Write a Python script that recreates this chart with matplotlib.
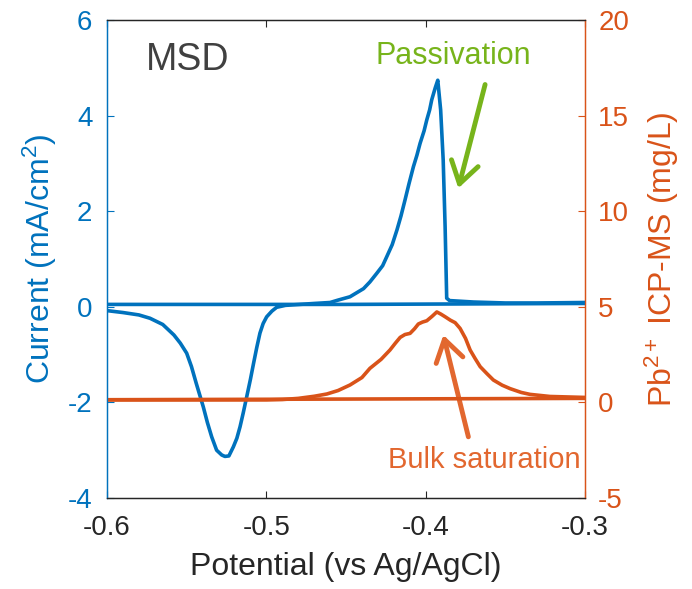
import matplotlib
matplotlib.use("Agg")
import matplotlib.pyplot as plt

plt.rcParams['font.family'] = ['Liberation Sans', 'DejaVu Sans']
plt.rcParams['mathtext.fontset'] = 'custom'
plt.rcParams['mathtext.rm'] = 'Liberation Sans'
plt.rcParams['mathtext.it'] = 'Liberation Sans:italic'
plt.rcParams['mathtext.bf'] = 'Liberation Sans:bold'

# Blue: current (left axis), CV loop
pot_cv_fwd = [-0.600, -0.590, -0.580, -0.573, -0.565, -0.558, -0.554, -0.550, -0.547, -0.544,
              -0.5396, -0.537, -0.5343, -0.5312, -0.528, -0.526, -0.5235, -0.5207, -0.5185, -0.5165,
              -0.5145, -0.5123, -0.510, -0.508, -0.506, -0.504, -0.502, -0.4998, -0.4965, -0.4935,
              -0.488, -0.479, -0.470, -0.460, -0.455, -0.4475, -0.439, -0.435, -0.4307, -0.427,
              -0.4244, -0.421, -0.418, -0.4155, -0.413, -0.4105, -0.4077, -0.4055, -0.4035, -0.401,
              -0.3993, -0.3975, -0.3962, -0.3940, -0.3924, -0.3906, -0.389, -0.3878, -0.3868,
              -0.3850, -0.370, -0.350, -0.330, -0.300]
cur_cv_fwd = [-0.08, -0.12, -0.17, -0.24, -0.37, -0.59, -0.76, -0.97, -1.25, -1.60,
              -2.09, -2.42, -2.72, -3.00, -3.10, -3.13, -3.12, -2.93, -2.75, -2.51,
              -2.22, -1.88, -1.52, -1.18, -0.85, -0.55, -0.35, -0.21, -0.09, -0.01,
              0.03, 0.05, 0.07, 0.09, 0.14, 0.21, 0.38, 0.52, 0.70, 0.86,
              1.05, 1.30, 1.61, 1.90, 2.23, 2.57, 2.93, 3.17, 3.42, 3.68,
              3.91, 4.12, 4.33, 4.58, 4.74, 4.12, 3.07, 1.68, 0.18,
              0.13, 0.10, 0.08, 0.08, 0.09]
pot_cv_rev = [-0.300, -0.450, -0.600]
cur_cv_rev = [0.07, 0.05, 0.05]

# Orange: Pb2+ ICP-MS (right axis)
pot_icp_fwd = [-0.600, -0.500, -0.490, -0.480, -0.470, -0.462, -0.455, -0.4475, -0.440, -0.435,
               -0.428, -0.4224, -0.419, -0.416, -0.413, -0.4098, -0.407, -0.4046, -0.402, -0.3993,
               -0.396, -0.393, -0.3905, -0.3878, -0.3845, -0.3815, -0.3784, -0.375, -0.3721, -0.369,
               -0.3658, -0.3615, -0.3575, -0.352, -0.347, -0.340, -0.3345, -0.322, -0.300]
icp_fwd = [0.13, 0.13, 0.15, 0.21, 0.32, 0.44, 0.62, 0.91, 1.30, 1.78,
           2.25, 2.74, 3.10, 3.40, 3.55, 3.61, 3.85, 4.10, 4.20, 4.27,
           4.50, 4.73, 4.62, 4.48, 4.30, 4.17, 3.87, 3.35, 2.74, 2.30,
           1.87, 1.50, 1.17, 0.90, 0.72, 0.52, 0.42, 0.31, 0.26]
pot_icp_rev = [-0.300, -0.600]
icp_rev = [0.21, 0.14]

x_ticks = [-0.6, -0.5, -0.4, -0.3]
x_ticklabels = ['-0.6', '-0.5', '-0.4', '-0.3']
yl_ticks = [-4, -2, 0, 2, 4, 6]
yr_ticks = [-5, 0, 5, 10, 15, 20]

BLUE = '#0072BD'
ORANGE = '#D95319'
GREEN = '#77B41B'
ORANGE_TXT = '#E2672F'
GRAY = '#262626'

W, H = 692, 589
fig = plt.figure(figsize=(W / 100, H / 100), dpi=100)
ax = fig.add_axes([107 / W, 1 - 498 / H, (585 - 107) / W, (498 - 20) / H])
ax2 = ax.twinx()

LW = 2.6
ax.plot(pot_cv_fwd, cur_cv_fwd, color=BLUE, lw=LW, solid_joinstyle='round', zorder=3)
ax.plot(pot_cv_rev, cur_cv_rev, color=BLUE, lw=LW, zorder=3)
ax2.plot(pot_icp_fwd, icp_fwd, color=ORANGE, lw=LW, solid_joinstyle='round')
ax2.plot(pot_icp_rev, icp_rev, color=ORANGE, lw=LW)

ax.set_xlim(-0.6, -0.3)
ax.set_ylim(-4, 6)
ax2.set_ylim(-5, 20)
ax.set_xticks(x_ticks)
ax.set_xticklabels(x_ticklabels)
ax.set_yticks(yl_ticks)
ax.set_yticklabels([str(v) for v in yl_ticks])
ax2.set_yticks(yr_ticks)
ax2.set_yticklabels([str(v) for v in yr_ticks])

fs_tick = 20
ax.tick_params(axis='x', direction='in', length=5, width=0.8, colors=GRAY,
               labelsize=fs_tick, pad=12, top=True)
ax.tick_params(axis='y', direction='in', length=5, width=0.8, colors=BLUE,
               labelsize=fs_tick, pad=10.5)
ax2.tick_params(axis='y', direction='in', length=5, width=0.8, colors=ORANGE,
                labelsize=fs_tick, pad=9.5)

for a in (ax, ax2):
    a.spines['top'].set_color(GRAY)
    a.spines['bottom'].set_color(GRAY)
    a.spines['left'].set_color(BLUE)
    a.spines['right'].set_color(ORANGE)
    for s in a.spines.values():
        s.set_linewidth(0.9)

ax.set_xlabel('Potential (vs Ag/AgCl)', fontsize=23, color=GRAY, labelpad=8)
ax.set_ylabel(r'Current (mA/cm$^{\mathrm{2}}$)', fontsize=23, color=BLUE, labelpad=6)
ax2.set_ylabel(r'Pb$^{\mathrm{2+}}$ ICP-MS (mg/L)', fontsize=23, color=ORANGE, labelpad=10)

fig.text(188 / W, 1 - 70 / H, 'MSD', fontsize=27, color='#404040',
         ha='center', va='baseline')
fig.text(453 / W, 1 - 64 / H, 'Passivation', fontsize=22, color=GREEN,
         ha='center', va='baseline')
fig.text(484 / W, 1 - 468 / H, 'Bulk saturation', fontsize=21, color=ORANGE_TXT,
         ha='center', va='baseline')

ax.annotate('', xy=(-0.3795, 2.48), xytext=(-0.3627, 4.65),
            arrowprops=dict(arrowstyle='->,head_length=0.7,head_width=0.45',
                            color=GREEN, lw=3.5, mutation_scale=22,
                            shrinkA=0, shrinkB=0), zorder=5)
ax.annotate('', xy=(-0.3889, -0.59), xytext=(-0.3732, -2.72),
            arrowprops=dict(arrowstyle='->,head_length=0.7,head_width=0.45',
                            color=ORANGE_TXT, lw=3.5, mutation_scale=22,
                            shrinkA=0, shrinkB=0), zorder=5)

fig.savefig('out.png', dpi=100)
